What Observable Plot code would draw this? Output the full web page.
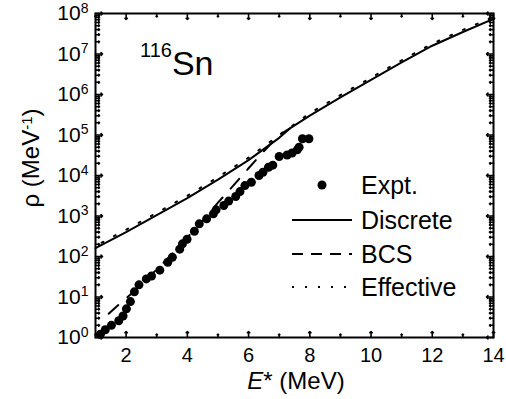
<!DOCTYPE html>
<html><head><meta charset="utf-8">
<script src="https://cdn.jsdelivr.net/npm/d3@7"></script>
<script src="https://cdn.jsdelivr.net/npm/@observablehq/plot@0.6"></script>
<style>
body{margin:0;background:#fff}
svg{font-family:"Liberation Sans",Arial,sans-serif}
</style>
</head><body><div id="chart"></div>
<script>
// Experimental level density (Expt.)
const expE = [1.16,1.32,1.52,1.76,1.90,2.01,2.14,2.27,2.42,2.66,2.83,3.10,3.36,3.51,3.75,3.84,3.99,4.23,4.39,4.63,4.85,4.94,5.19,5.35,5.58,5.72,5.88,6.09,6.34,6.47,6.65,6.79,7.00,7.26,7.42,7.59,7.65,7.76,7.97];
const expRho = [1.2,1.55,2.0,2.6,3.4,5.1,7.7,13.4,20,28,33,46,72,96,152,205,267,420,640,850,1130,1420,1820,2330,3030,4000,5640,6800,1.0e4,1.2e4,1.6e4,1.8e4,2.95e4,3.2e4,3.6e4,4.3e4,5.0e4,8.1e4,8.1e4];
// Discrete
const discE = [1,2,3,4,5,6,7,7.35,8,9,10,11,12,13,14];
const discRho = [160,400,1050,2750,7900,2.4e4,8.5e4,1.45e5,3.0e5,8.5e5,2.3e6,6.2e6,1.6e7,3.5e7,7.4e7];
// BCS
const bcsE = [1.43,1.8,2.2,2.5,3.0,3.5,4.0,4.5,5.0,5.5,6.0,6.5,7.0,7.35];
const bcsRho = [3.85,6.9,12.6,20.9,47.9,115,295,759,2140,5620,1.51e4,3.98e4,1.0e5,1.45e5];
// Effective
const effE = [1.2,2,3,4,5,6,7,8,9,10,11,12,13,14];
const effRho = [219,460,1200,3150,9100,2.75e4,1.0e5,3.45e5,9.7e5,2.6e6,7.0e6,1.8e7,3.95e7,8.2e7];

const xMajor = [2,4,6,8,10,12,14];
const xMinor = [1,3,5,7,9,11,13];
const yExponents = [0,1,2,3,4,5,6,7,8];
const yMajor = yExponents.map(k => 10 ** k);
const yMinor = [];
for (let k = 0; k < 8; k++) for (let m = 2; m <= 9; m++) yMinor.push(m * 10 ** k);

const legendItems = ["Expt.", "Discrete", "BCS", "Effective"];
const nucleusMass = "116", nucleusName = "Sn";

const toRows = (xs, ys) => xs.map((x, i) => ({x, y: ys[i]}));
const expt = toRows(expE, expRho);
const disc = toRows(discE, discRho);
const bcs = toRows(bcsE, bcsRho);
const eff = toRows(effE, effRho);

const DASH = "13,12", DOT = "2,12";

const tickV = (data, opts) => Plot.vector(data, {anchor: "start", stroke: "black", strokeWidth: 1.6, ...opts});

const plot = Plot.plot({
  width: 506, height: 399,
  marginLeft: 95, marginRight: 13, marginTop: 13, marginBottom: 62,
  style: {fontFamily: "'Liberation Sans', Arial, sans-serif", background: "white", color: "black"},
  x: {domain: [1, 14]},
  y: {type: "log", domain: [1, 1e8]},
  marks: [
    tickV(xMajor, {x: d => d, frameAnchor: "bottom", rotate: 0, length: 6}),
    tickV(xMinor, {x: d => d, frameAnchor: "bottom", rotate: 0, length: 3.5}),
    tickV(xMajor, {x: d => d, frameAnchor: "top", rotate: 180, length: 6}),
    tickV(xMinor, {x: d => d, frameAnchor: "top", rotate: 180, length: 3.5}),
    tickV(yMajor, {y: d => d, frameAnchor: "left", rotate: 90, length: 7}),
    tickV(yMinor, {y: d => d, frameAnchor: "left", rotate: 90, length: 4}),
    tickV(yMajor, {y: d => d, frameAnchor: "right", rotate: -90, length: 7}),
    tickV(yMinor, {y: d => d, frameAnchor: "right", rotate: -90, length: 4}),
    Plot.axisX({ticks: xMajor, tickSize: 0, tickPadding: 10, fontSize: 20, label: null}),
    Plot.axisY({ticks: yMajor, tickSize: 0, tickPadding: 7, fontSize: 21, label: null, tickFormat: d => "10|" + Math.round(Math.log10(d))}),
    Plot.line(eff, {x: "x", y: "y", stroke: "black", strokeWidth: 2, strokeDasharray: DOT}),
    Plot.line(disc, {x: "x", y: "y", stroke: "black", strokeWidth: 2}),
    Plot.line(bcs, {x: "x", y: "y", stroke: "black", strokeWidth: 2, strokeDasharray: DASH}),
    Plot.dot(expt, {x: "x", y: "y", r: 4.5, fill: "black", stroke: null}),
    Plot.frame({stroke: "black", strokeWidth: 2})
  ]
});

const svg = d3.select(plot);
svg.selectAll("g[aria-label='y-axis tick label'] text").each(function() {
  const t = d3.select(this);
  const [base, exp] = t.text().split("|");
  t.text(null);
  t.append("tspan").text(base);
  t.append("tspan").attr("dy", "-0.55em").attr("font-size", 14).text(exp);
});

const xl = svg.append("text").attr("x", 296).attr("y", 389).attr("text-anchor", "middle").attr("font-size", 24).attr("fill", "black");
xl.append("tspan").attr("font-style", "italic").text("E");
xl.append("tspan").text("* (MeV)");

const yl = svg.append("text").attr("transform", "translate(39,158) rotate(-90)").attr("text-anchor", "middle").attr("font-size", 24).attr("fill", "black");
yl.append("tspan").text("ρ (MeV");
yl.append("tspan").attr("dy", "-0.5em").attr("font-size", 15).text("-1");
yl.append("tspan").attr("dy", "0.33em").text(")");

const nl = svg.append("text").attr("x", 140).attr("y", 75).attr("text-anchor", "start").attr("fill", "black");
nl.append("tspan").attr("font-size", 20).attr("dy", "-18").text(nucleusMass);
nl.append("tspan").attr("font-size", 34).attr("dy", "18").text(nucleusName);

const lg = svg.append("g");
const rowY = [185, 220, 254, 287];
const styles = [null, null, "11,8", "2,11"];
legendItems.forEach((name, i) => {
  const y = rowY[i];
  if (i === 0) {
    lg.append("circle").attr("cx", 322).attr("cy", y).attr("r", 4.5).attr("fill", "black");
  } else {
    lg.append("line").attr("x1", 292).attr("x2", 352).attr("y1", y).attr("y2", y)
      .attr("stroke", "black").attr("stroke-width", 2)
      .attr("stroke-dasharray", styles[i]);
  }
  lg.append("text").attr("x", 361).attr("y", y).attr("dy", "0.35em").attr("text-anchor", "start")
    .attr("font-size", 25).attr("fill", "black").text(name);
});

document.getElementById("chart").appendChild(plot);
</script>
</body></html>
